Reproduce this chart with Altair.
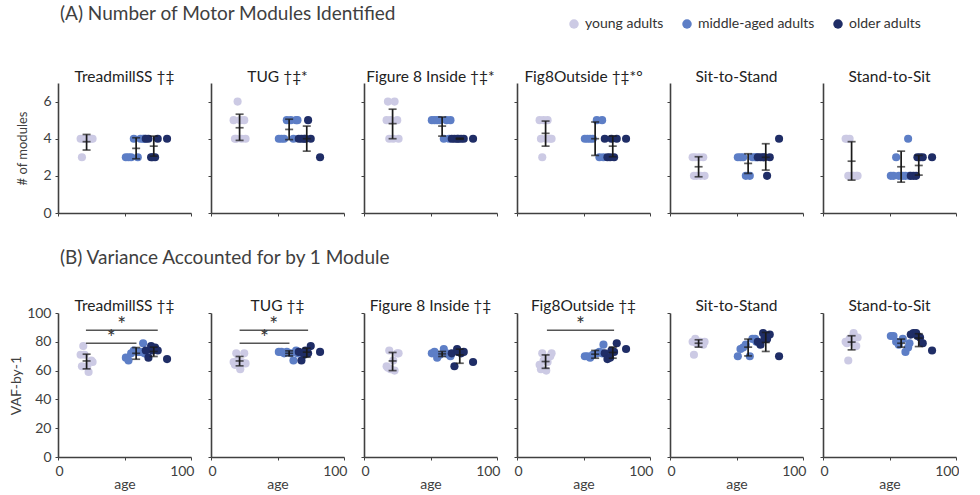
import altair as alt
import pandas as pd

# ---------------- data ----------------
tasks = ["TreadmillSS", "TUG", "Figure 8 Inside", "Fig8Outside", "Sit-to-Stand", "Stand-to-Sit"]
titles_top = ["TreadmillSS \u2020\u2021", "TUG \u2020\u2021*", "Figure 8 Inside \u2020\u2021*",
              "Fig8Outside \u2020\u2021*\u00b0", "Sit-to-Stand", "Stand-to-Sit"]
titles_bot = ["TreadmillSS \u2020\u2021", "TUG \u2020\u2021", "Figure 8 Inside \u2020\u2021",
              "Fig8Outside \u2020\u2021", "Sit-to-Stand", "Stand-to-Sit"]
header_a = "(A) Number of Motor Modules Identified"
header_b = "(B) Variance Accounted for by 1 Module"
groups = ["young adults", "middle-aged adults", "older adults"]
colors = ["#cccae4", "#5d7ec6", "#1f2d66"]

subj_group = ["young adults"] * 8 + ["middle-aged adults"] * 8 + ["older adults"] * 7
subj_age = [17, 18, 19, 20, 22, 23, 25, 26,
            51, 53, 55, 57, 60, 62, 64, 65,
            66, 68, 70, 71, 73, 75, 82]

# number of modules per subject
mod_treadmill = [4, 3, 4, 4, 4, 4, 4, 4, 3, 3, 3, 4, 3, 4, 4, 4, 4, 4, 3, 3, 3, 4, 4]
mod_tug = [5, 4, 4, 6, 5, 4, 5, 4, 4, 4, 4, 5, 5, 4, 5, 5, 4, 4, 4, 4, 5, 4, 3]
mod_f8in = [5, 6, 4, 5, 4, 6, 5, 4, 5, 5, 5, 5, 4, 5, 4, 5, 4, 4, 4, 4, 4, 4, 4]
mod_f8out = [5, 4, 3, 5, 4, 5, 4, 4, 4, 4, 4, 4, 5, 3, 5, 3, 4, 3, 3, 4, 3, 4, 4]
mod_sts = [3, 2, 3, 2, 3, 2, 3, 2, 3, 3, 3, 2, 2, 3, 3, 3, 3, 3, 3, 3, 2, 3, 4]
mod_s2s = [4, 4, 2, 4, 2, 2, 2, 2, 2, 2, 3, 2, 2, 2, 4, 2, 2, 2, 2, 3, 3, 3, 3]

# VAF by 1 module per subject
vaf_treadmill = [71, 63, 77, 71, 63, 59, 67, 66, 69, 67, 72, 74, 73, 73, 79, 72, 74, 69, 77, 74, 76, 74, 68]
vaf_tug = [66, 64, 72, 67, 61, 66, 72, 65, 73, 73, 72, 73, 72, 67, 74, 72, 73, 67, 71, 74, 72, 77, 73]
vaf_f8in = [63, 62, 74, 61, 67, 60, 72, 72, 72, 73, 69, 71, 75, 72, 71, 70, 72, 63, 75, 73, 72, 73, 66]
vaf_f8out = [64, 61, 72, 67, 60, 66, 70, 72, 70, 70, 69, 71, 72, 73, 72, 78, 72, 68, 69, 74, 73, 79, 75]
vaf_sts = [80, 71, 82, 79, 80, 80, 78, 80, 70, 75, 76, 78, 70, 82, 82, 80, 80, 78, 86, 82, 82, 85, 70]
vaf_s2s = [80, 79, 67, 82, 80, 86, 77, 83, 84, 84, 80, 78, 82, 73, 76, 79, 85, 86, 86, 84, 83, 79, 74]

mod_values = [mod_treadmill, mod_tug, mod_f8in, mod_f8out, mod_sts, mod_s2s]
vaf_values = [vaf_treadmill, vaf_tug, vaf_f8in, vaf_f8out, vaf_sts, vaf_s2s]

# group summaries (mean, lower, upper)
err_age = [21.5, 58.75, 72.0]
mod_mean = [[3.84, 3.48, 3.6], [4.59, 4.5, 4.0], [4.81, 4.68, 4.0],
            [4.29, 4.0, 3.6], [2.49, 2.67, 3.0], [2.79, 2.49, 2.56]]
mod_lo = [[3.39, 2.92, 3.06], [3.91, 3.95, 3.33], [4.0, 4.14, 3.97],
          [3.6, 3.1, 3.03], [1.95, 2.13, 2.31], [1.77, 1.66, 2.04]]
mod_hi = [[4.23, 4.05, 4.14], [5.32, 5.05, 4.68], [5.59, 5.17, 4.03],
          [4.95, 4.9, 4.14], [3.03, 3.19, 3.73], [3.84, 3.33, 3.1]]
vaf_mean = [[66.7, 72.0, 73.3], [66.7, 72.0, 72.8], [66.7, 71.6, 70.9],
            [66.3, 71.4, 72.6], [79.0, 76.3, 79.5], [79.8, 79.0, 82.6]]
vaf_lo = [[61.2, 67.9, 69.8], [63.3, 70.2, 69.3], [60.0, 69.8, 65.1],
          [61.6, 68.6, 68.6], [76.3, 70.2, 73.3], [74.4, 76.3, 76.7]]
vaf_hi = [[71.4, 76.0, 76.3], [69.8, 73.7, 75.6], [72.6, 73.3, 74.9],
          [70.9, 74.0, 76.3], [81.4, 81.9, 86.5], [84.2, 81.9, 85.6]]

# significance brackets (VAF row)
sig_task = ["TreadmillSS", "TreadmillSS", "TUG", "TUG", "Fig8Outside"]
sig_x1 = [21, 21, 21.5, 21.5, 22.5]
sig_x2 = [75, 59, 73, 59, 73]
sig_y = [88, 79, 88, 79, 88]

# ---------------- styling ----------------
FONT = "Lato"
AX = "#404040"
W = 133
H_TOP = 130
H_BOT = 144

color_enc = alt.Color(
    "group:N",
    scale=alt.Scale(domain=groups, range=colors),
    legend=alt.Legend(title=None, orient="none", direction="horizontal",
                      legendX=509, legendY=-66, symbolType="circle",
                      symbolSize=90, labelFontSize=14, labelFont=FONT,
                      labelColor="#333333", columnPadding=16, symbolStrokeWidth=0),
)


def text_layer(label, x, y, size, align="center", color="#222222"):
    return alt.Chart(pd.DataFrame({"t": [label]})).mark_text(
        align=align, baseline="middle", fontSize=size, font=FONT, color=color
    ).encode(x=alt.value(x), y=alt.value(y), text="t:N")


def make_panel(i, row):
    top = row == "top"
    vals = mod_values[i] if top else vaf_values[i]
    pts = pd.DataFrame({"age": subj_age, "value": vals, "group": subj_group})
    means = mod_mean[i] if top else vaf_mean[i]
    los = mod_lo[i] if top else vaf_lo[i]
    his = mod_hi[i] if top else vaf_hi[i]
    err = pd.DataFrame({"age": err_age, "mean": means, "lo": los, "hi": his, "group": groups})

    ydom = [0, 7] if top else [0, 100]
    yvals = [0, 2, 4, 6] if top else [0, 20, 40, 60, 80, 100]
    first = i == 0
    ytitle = ("# of modules" if top else "VAF-by-1") if first else None
    xtitle = None if top else "age"
    yaxis = alt.Axis(
        values=yvals, labels=first, labelOverlap=False,
        grid=False, domainColor=AX, domainWidth=1.6, tickColor=AX, tickSize=3,
        labelFontSize=14, labelColor=AX, labelFont=FONT, labelPadding=4,
        titleFontSize=14 if not top else 13, titleFont=FONT, titleColor=AX, titleFontWeight="normal",
        titlePadding=(13 if top else 3),
    )
    xaxis = alt.Axis(
        values=[0, 50, 100], labels=not top, labelOverlap=False,
        labelExpr="datum.value == 50 ? '' : datum.label",
        labelFlush=True, labelFlushOffset=3,
        grid=False, domainColor=AX, domainWidth=1.6, tickColor=AX, tickSize=3,
        labelFontSize=14, labelColor=AX, labelFont=FONT, labelPadding=4,
        titleFontSize=14, titleFont=FONT, titleColor=AX, titleFontWeight="normal", titlePadding=-1,
    )
    xs = alt.Scale(domain=[0, 100], nice=False)
    ys = alt.Scale(domain=ydom, nice=False)

    def X(field):
        return alt.X(field, scale=xs, axis=xaxis, title=xtitle)

    def Y(field):
        return alt.Y(field, scale=ys, axis=yaxis, title=ytitle)

    points = alt.Chart(pts).mark_circle(size=66, opacity=1).encode(
        x=X("age:Q"), y=Y("value:Q"), color=color_enc,
    )
    bars = alt.Chart(err).mark_errorbar(ticks=alt.TickConfig(size=8, color="#1a1a1a", thickness=1.7),
                                        color="#1a1a1a", thickness=1.7).encode(
        x=X("age:Q"), y=Y("lo:Q"), y2="hi:Q",
    )
    mids = alt.Chart(err).mark_tick(orient="horizontal", size=8, thickness=1.7, color="#1a1a1a").encode(
        x=X("age:Q"), y=Y("mean:Q"),
    )
    layers = [points, bars, mids]

    if not top:
        sig = pd.DataFrame({"task": sig_task, "x1": sig_x1, "x2": sig_x2, "y": sig_y})
        sig = sig[sig.task == tasks[i]]
        if len(sig):
            sig = sig.assign(xm=(sig.x1 + sig.x2) / 2, star="*")
            lines = alt.Chart(sig).mark_rule(color="#555555", strokeWidth=1.6).encode(
                x=X("x1:Q"), x2="x2:Q", y=Y("y:Q"))
            stars = alt.Chart(sig).mark_text(fontSize=21, font=FONT, color="#333333", dy=6,
                                             baseline="bottom").encode(
                x=X("xm:Q"), y=Y("y:Q"), text="star:N")
            layers += [lines, stars]

    # panel title
    layers.append(text_layer(titles_top[i] if top else titles_bot[i], W / 2,
                             -6.5 if top else -7.5, 15.5))
    if first and top:
        layers.append(text_layer(header_a, 2, -69, 19, align="left", color="#404040"))
        layers.append(text_layer(header_b, 2, 175, 19, align="left", color="#404040"))

    return alt.layer(*layers).properties(width=W, height=H_TOP if top else H_BOT)


panels = [make_panel(i, "top") for i in range(6)] + [make_panel(i, "bot") for i in range(6)]

chart = alt.concat(*panels, columns=6, spacing={"row": 100, "column": 20}, bounds="flush").properties(
    padding={"left": 9, "top": 5, "right": 0, "bottom": 0},
    background="white",
).configure_view(stroke=None)

chart.save("out.html", embed_options={"renderer": "svg", "actions": False})
